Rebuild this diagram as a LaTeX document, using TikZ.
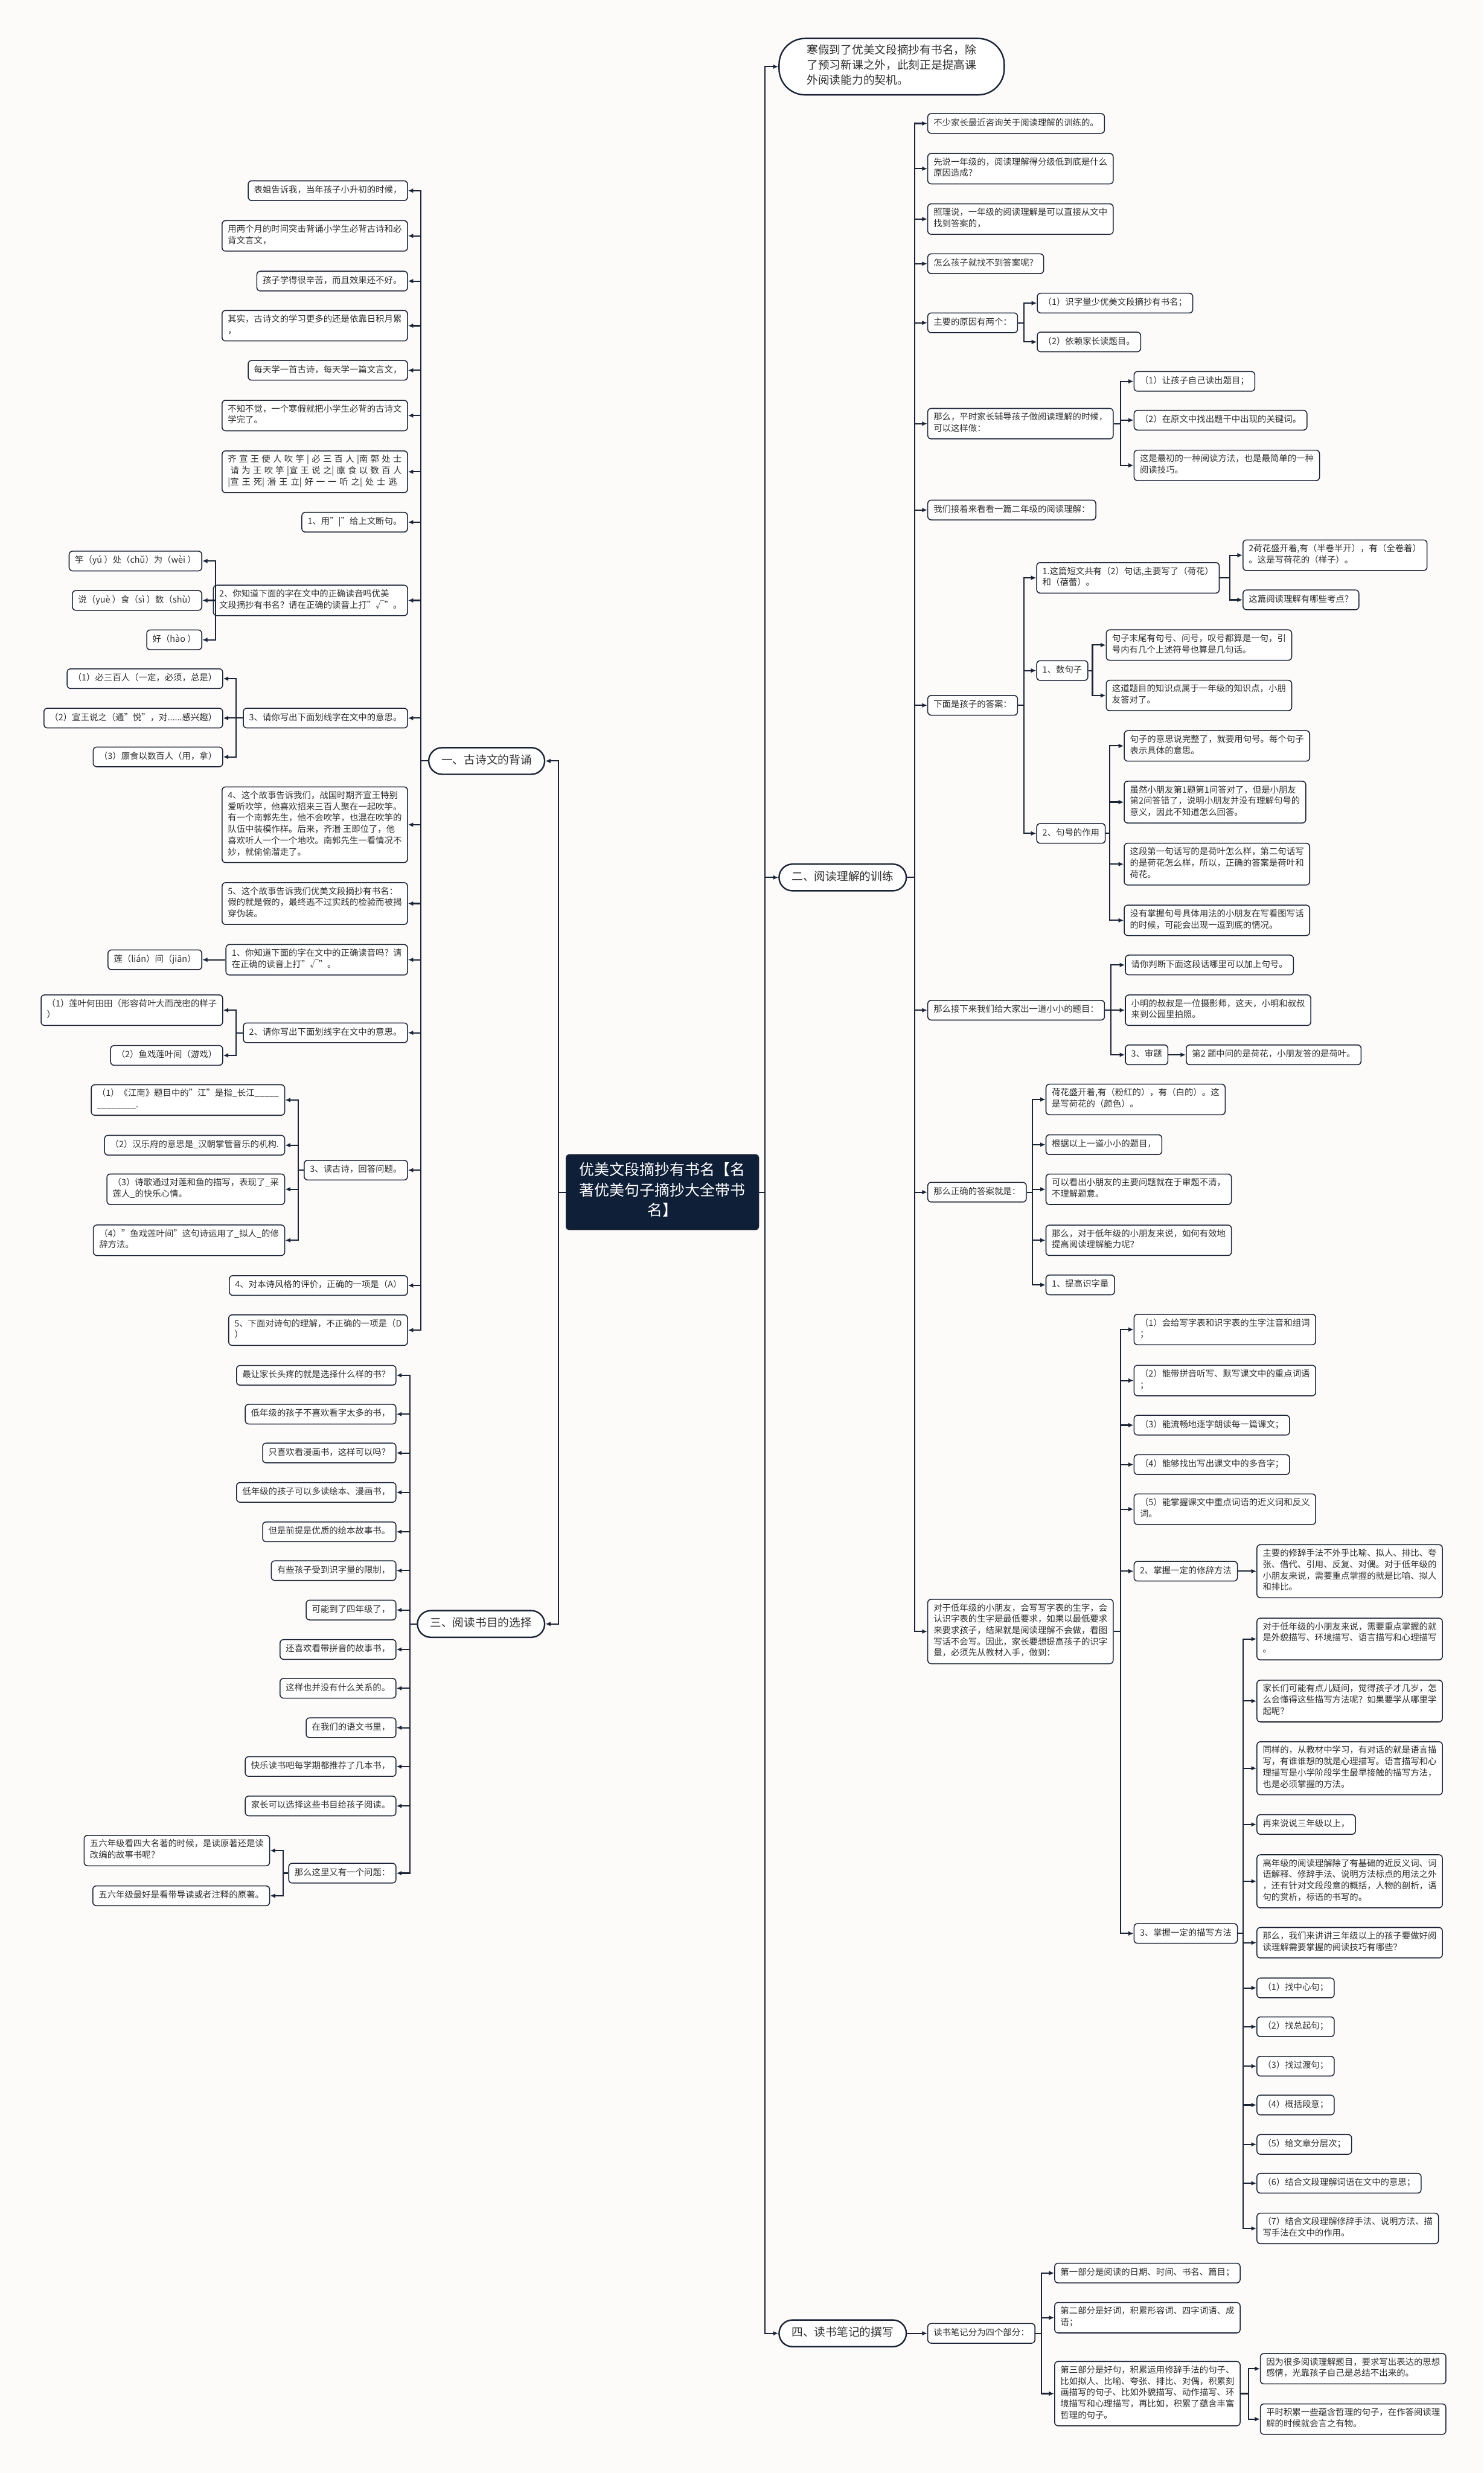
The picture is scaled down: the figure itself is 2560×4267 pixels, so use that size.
\documentclass[tikz,border=0pt]{standalone}
\usepackage{fontspec}
\setmainfont{Noto Sans CJK SC}
\usetikzlibrary{arrows.meta}
\definecolor{bgc}{HTML}{FDFAFA}
\definecolor{linec}{HTML}{1B2436}
\definecolor{textc}{HTML}{2E2E2E}
\definecolor{navyc}{HTML}{0F1F38}
\tikzset{
  box/.style={draw=linec, line width=1.6pt, fill=white, rounded corners=6pt,
    inner xsep=10pt, inner ysep=7.25pt, align=left, text=textc,
    font=\fontsize{15}{19.5}\selectfont,
    execute at begin node=\strut, execute at end node=\strut},
  lb/.style={box, anchor=east},
  rb/.style={box, anchor=west},
  pill/.style={draw=linec, line width=2.5pt, fill=white, rounded corners=23pt,
    inner xsep=22pt, inner ysep=10pt, text=textc,
    font=\fontsize{19.5}{26}\selectfont,
    execute at begin node=\strut, execute at end node=\strut},
  bigpill/.style={pill, rounded corners=45pt, inner xsep=48pt, inner ysep=10.5pt, align=left},
  rootbox/.style={fill=navyc, draw=linec, line width=1.5pt, rounded corners=5pt, text=white,
    inner xsep=23pt, inner ysep=13.5pt, align=center,
    font=\fontsize{26}{35}\selectfont,
    execute at begin node=\strut, execute at end node=\strut},
  conn/.style={draw=linec, line width=2.2pt, -{Latex[length=9pt,width=8pt]}}
}
\newcommand{\cnx}[3]{\draw[conn] (#1) -- (#1 -| #2) |- (#3);}
\begin{document}
\begin{tikzpicture}[x=1pt,y=-1pt]
\fill[bgc] (0,0) rectangle (2560,4267);
\useasboundingbox (0,0) rectangle (2560,4267);

% trunk coordinates
\coordinate (tL) at (964,0);
\coordinate (tR) at (1320,0);
\coordinate (tA) at (726,0);
\coordinate (tB) at (372,0);
\coordinate (tC) at (407,0);
\coordinate (tF) at (515,0);
\coordinate (tG) at (707,0);
\coordinate (tH) at (489,0);
\coordinate (tS) at (1578,0);
\coordinate (tS5) at (1767,0);
\coordinate (tS6) at (1933,0);
\coordinate (tT1) at (2122,0);
\coordinate (tT2) at (1885,0);
\coordinate (tT3) at (1915,0);
\coordinate (tS9) at (1917,0);
\coordinate (tS10) at (1781,0);
\coordinate (tW7) at (2145,0);
\coordinate (tY) at (1797,0);
\coordinate (tY3) at (2154,0);

% root
\node[rootbox] (root) at (1143,2057) {优美文段摘抄有书名【名\\著优美句子摘抄大全带书\\名】};

% branch nodes
\node[pill, anchor=east] (l1) at (941,1313) {一、古诗文的背诵};
\node[pill, anchor=east] (l3) at (941,2802) {三、阅读书目的选择};
\node[bigpill, anchor=west] (r0) at (1343,115) {寒假到了优美文段摘抄有书名，除\\了预习新课之外，此刻正是提高课\\外阅读能力的契机。};
\node[pill, anchor=west] (r2) at (1343,1514) {二、阅读理解的训练};
\node[pill, anchor=west] (r4) at (1343,4026) {四、读书笔记的撰写};

% ---------- branch 1 ----------
\node[lb] (a1) at (704,329) {表姐告诉我，当年孩子小升初的时候，};
\node[lb] (a2) at (704,407) {用两个月的时间突击背诵小学生必背古诗和必\\背文言文，};
\node[lb] (a3) at (704,485) {孩子学得很辛苦，而且效果还不好。};
\node[lb] (a4) at (704,562) {其实，古诗文的学习更多的还是依靠日积月累\\，};
\node[lb] (a5) at (704,639) {每天学一首古诗，每天学一篇文言文，};
\node[lb] (a6) at (704,717) {不知不觉，一个寒假就把小学生必背的古诗文\\学完了。};
\node[lb] (a7) at (704,814) {\makebox[300pt][s]{齐 宣 王 使 人 吹 竽 | 必 三 百 人 |南 郭 处 士}\\\makebox[300pt][s]{ 请 为 王 吹 竽 |宣 王 说 之| 廪 食 以 数 百 人}\\\makebox[292pt][s]{|宣 王 死| 湣 王 立| 好 一 一 听 之| 处 士 逃}};
\node[lb] (a8) at (704,901) {1、用"|"给上文断句。};
\node[lb] (a9) at (704,1036) {2、你知道下面的字在文中的正确读音吗优美\\文段摘抄有书名？请在正确的读音上打"√"。};
\node[lb] (b1) at (349,968) {竽（yú ）处（chǔ）为（wèi ）};
\node[lb] (b2) at (349,1036) {说（yuè ）食（sì ）数（shù）};
\node[lb] (b3) at (349,1104) {好（hào ）};
\node[lb] (a10) at (704,1239) {3、请你写出下面划线字在文中的意思。};
\node[lb] (c1) at (385,1171) {（1）必三百人（一定，必须，总是）};
\node[lb] (c2) at (385,1239) {（2）宣王说之（通"悦"，对......感兴趣）};
\node[lb] (c3) at (385,1306) {（3）廪食以数百人（用，拿）};
\node[lb] (a11) at (704,1423) {4、这个故事告诉我们，战国时期齐宣王特别\\爱听吹竽，他喜欢招来三百人聚在一起吹竽。\\有一个南郭先生，他不会吹竽，也混在吹竽的\\队伍中装模作样。后来，齐湣 王即位了，他\\喜欢听人一个一个地吹。南郭先生一看情况不\\妙，就偷偷溜走了。};
\node[lb] (a12) at (704,1559) {5、这个故事告诉我们优美文段摘抄有书名：\\假的就是假的，最终逃不过实践的检验而被揭\\穿伪装。};
\node[lb] (a13) at (704,1656) {1、你知道下面的字在文中的正确读音吗？请\\在正确的读音上打"√"。};
\node[lb] (d1) at (349,1656) {莲（lián）间（jiān）};
\node[lb] (a14) at (704,1782) {2、请你写出下面划线字在文中的意思。};
\node[lb] (e1) at (385,1743) {（1）莲叶何田田（形容荷叶大而茂密的样子\\）};
\node[lb] (e2) at (385,1821) {（2）鱼戏莲叶间（游戏）};
\node[lb] (a15) at (704,2019) {3、读古诗，回答问题。};
\node[lb] (f1) at (492,1898) {（1）《江南》题目中的"江"是指\_长江\_\_\_\_\_\\\_\_\_\_\_\_\_\_.};
\node[lb] (f2) at (492,1976) {（2）汉乐府的意思是\_汉朝掌管音乐的机构.};
\node[lb] (f3) at (492,2052) {（3）诗歌通过对莲和鱼的描写，表现了\_采\\莲人\_的快乐心情。};
\node[lb] (f4) at (492,2140) {（4）"鱼戏莲叶间"这句诗运用了\_拟人\_的修\\辞方法。};
\node[lb] (a16) at (704,2218) {4、对本诗风格的评价，正确的一项是（A）};
\node[lb] (a17) at (704,2295) {5、下面对诗句的理解，不正确的一项是（D\\）};

% ---------- branch 3 ----------
\node[lb] (g1) at (684,2373) {最让家长头疼的就是选择什么样的书？};
\node[lb] (g2) at (684,2440) {低年级的孩子不喜欢看字太多的书，};
\node[lb] (g3) at (684,2507) {只喜欢看漫画书，这样可以吗？};
\node[lb] (g4) at (684,2575) {低年级的孩子可以多读绘本、漫画书，};
\node[lb] (g5) at (684,2643) {但是前提是优质的绘本故事书。};
\node[lb] (g6) at (684,2710) {有些孩子受到识字量的限制，};
\node[lb] (g7) at (684,2778) {可能到了四年级了，};
\node[lb] (g8) at (684,2846) {还喜欢看带拼音的故事书，};
\node[lb] (g9) at (684,2913) {这样也并没有什么关系的。};
\node[lb] (g10) at (684,2981) {在我们的语文书里，};
\node[lb] (g11) at (684,3048) {快乐读书吧每学期都推荐了几本书，};
\node[lb] (g12) at (684,3116) {家长可以选择这些书目给孩子阅读。};
\node[lb] (g13) at (684,3232) {那么这里又有一个问题：};
\node[lb] (h1) at (466,3193) {五六年级看四大名著的时候，是读原著还是读\\改编的故事书呢？};
\node[lb] (h2) at (466,3271) {五六年级最好是看带导读或者注释的原著。};

% ---------- branch 2 ----------
\node[rb] (s1) at (1600,213) {不少家长最近咨询关于阅读理解的训练的。};
\node[rb] (s2) at (1600,291) {先说一年级的，阅读理解得分级低到底是什么\\原因造成？};
\node[rb] (s3) at (1600,378) {照理说，一年级的阅读理解是可以直接从文中\\找到答案的，};
\node[rb] (s4) at (1600,455) {怎么孩子就找不到答案呢？};
\node[rb] (s5) at (1600,557) {主要的原因有两个：};
\node[rb] (s5a) at (1789,523) {（1）识字量少优美文段摘抄有书名；};
\node[rb] (s5b) at (1789,590) {（2）依赖家长读题目。};
\node[rb] (s6) at (1600,731) {那么，平时家长辅导孩子做阅读理解的时候，\\可以这样做：};
\node[rb] (s6a) at (1956,658) {（1）让孩子自己读出题目；};
\node[rb] (s6b) at (1956,725) {（2）在原文中找出题干中出现的关键词。};
\node[rb] (s6c) at (1956,803) {这是最初的一种阅读方法，也是最简单的一种\\阅读技巧。};
\node[rb] (s7) at (1600,880) {我们接着来看看一篇二年级的阅读理解：};
\node[rb] (s8) at (1600,1217) {下面是孩子的答案：};
\node[rb] (t1) at (1788,997) {1.这篇短文共有（2）句话,主要写了（荷花）\\和（蓓蕾）。};
\node[rb] (t1a) at (2144,958) {2荷花盛开着,有（半卷半开），有（全卷着）\\。这是写荷花的（样子）。};
\node[rb] (t1b) at (2144,1035) {这篇阅读理解有哪些考点？};
\node[rb] (t2) at (1788,1157) {1、数句子};
\node[rb] (t2a) at (1908,1113) {句子末尾有句号、问号，叹号都算是一句，引\\号内有几个上述符号也算是几句话。};
\node[rb] (t2b) at (1908,1200) {这道题目的知识点属于一年级的知识点，小朋\\友答对了。};
\node[rb] (t3) at (1788,1438) {2、句号的作用};
\node[rb] (t3a) at (1939,1287) {句子的意思说完整了，就要用句号。每个句子\\表示具体的意思。};
\node[rb] (t3b) at (1939,1384) {虽然小朋友第1题第1问答对了，但是小朋友\\第2问答错了，说明小朋友并没有理解句号的\\意义，因此不知道怎么回答。};
\node[rb] (t3c) at (1939,1491) {这段第一句话写的是荷叶怎么样，第二句话写\\的是荷花怎么样，所以，正确的答案是荷叶和\\荷花。};
\node[rb] (t3d) at (1939,1588) {没有掌握句号具体用法的小朋友在写看图写话\\的时候，可能会出现一逗到底的情况。};
\node[rb] (s9) at (1600,1743) {那么接下来我们给大家出一道小小的题目：};
\node[rb] (u1) at (1941,1665) {请你判断下面这段话哪里可以加上句号。};
\node[rb] (u2) at (1941,1743) {小明的叔叔是一位摄影师，这天，小明和叔叔\\来到公园里拍照。};
\node[rb] (u3) at (1941,1820) {3、审题};
\node[rb] (u3a) at (2046,1820) {第2 题中问的是荷花，小朋友答的是荷叶。};
\node[rb] (s10) at (1600,2057) {那么正确的答案就是：};
\node[rb] (v1) at (1804,1897) {荷花盛开着,有（粉红的），有（白的）。这\\是写荷花的（颜色）。};
\node[rb] (v2) at (1804,1975) {根据以上一道小小的题目，};
\node[rb] (v3) at (1804,2052) {可以看出小朋友的主要问题就在于审题不清，\\不理解题意。};
\node[rb] (v4) at (1804,2140) {那么，对于低年级的小朋友来说，如何有效地\\提高阅读理解能力呢？};
\node[rb] (v5) at (1804,2217) {1、提高识字量};
\node[rb] (s11) at (1600,2815) {对于低年级的小朋友，会写写字表的生字，会\\认识字表的生字是最低要求，如果以最低要求\\来要求孩子，结果就是阅读理解不会做，看图\\写话不会写。因此，家长要想提高孩子的识字\\量，必须先从教材入手，做到：};
\node[rb] (w1) at (1956,2294) {（1）会给写字表和识字表的生字注音和组词\\；};
\node[rb] (w2) at (1956,2382) {（2）能带拼音听写、默写课文中的重点词语\\；};
\node[rb] (w3) at (1956,2459) {（3）能流畅地逐字朗读每一篇课文；};
\node[rb] (w4) at (1956,2527) {（4）能够找出写出课文中的多音字；};
\node[rb] (w5) at (1956,2604) {（5）能掌握课文中重点词语的近义词和反义\\词。};
\node[rb] (w6) at (1956,2711) {2、掌握一定的修辞方法};
\node[rb] (w6a) at (2168,2711) {主要的修辞手法不外乎比喻、拟人、排比、夸\\张、借代、引用、反复、对偶。对于低年级的\\小朋友来说，需要重点掌握的就是比喻、拟人\\和排比。};
\node[rb] (w7) at (1956,3336) {3、掌握一定的描写方法};
\node[rb] (x1) at (2168,2828) {对于低年级的小朋友来说，需要重点掌握的就\\是外貌描写、环境描写、语言描写和心理描写\\。};
\node[rb] (x2) at (2168,2935) {家长们可能有点儿疑问，觉得孩子才几岁，怎\\么会懂得这些描写方法呢？如果要学从哪里学\\起呢？};
\node[rb] (x3) at (2168,3051) {同样的，从教材中学习，有对话的就是语言描\\写，有谁谁想的就是心理描写。语言描写和心\\理描写是小学阶段学生最早接触的描写方法，\\也是必须掌握的方法。};
\node[rb] (x4) at (2168,3148) {再来说说三年级以上，};
\node[rb] (x5) at (2168,3246) {高年级的阅读理解除了有基础的近反义词、词\\语解释、修辞手法、说明方法标点的用法之外\\，还有针对文段段意的概括，人物的剖析，语\\句的赏析，标语的书写的。};
\node[rb] (x6) at (2168,3352) {那么，我们来讲讲三年级以上的孩子要做好阅\\读理解需要掌握的阅读技巧有哪些？};
\node[rb] (x7) at (2168,3430) {（1）找中心句；};
\node[rb] (x8) at (2168,3497) {（2）找总起句；};
\node[rb] (x9) at (2168,3565) {（3）找过渡句；};
\node[rb] (x10) at (2168,3632) {（4）概括段意；};
\node[rb] (x11) at (2168,3700) {（5）给文章分层次；};
\node[rb] (x12) at (2168,3767) {（6）结合文段理解词语在文中的意思；};
\node[rb] (x13) at (2168,3845) {（7）结合文段理解修辞手法、说明方法、描\\写手法在文中的作用。};

% ---------- branch 4 ----------
\node[rb] (y0) at (1600,4026) {读书笔记分为四个部分：};
\node[rb] (y1) at (1819,3922) {第一部分是阅读的日期、时间、书名、篇目；};
\node[rb] (y2) at (1819,3999) {第二部分是好词，积累形容词、四字词语、成\\语；};
\node[rb] (y3) at (1819,4130) {第三部分是好句，积累运用修辞手法的句子、\\比如拟人、比喻、夸张、排比、对偶，积累刻\\画描写的句子、比如外貌描写、动作描写、环\\境描写和心理描写，再比如，积累了蕴含丰富\\哲理的句子。};
\node[rb] (y3a) at (2174,4087) {因为很多阅读理解题目，要求写出表达的思想\\感情，光靠孩子自己是总结不出来的。};
\node[rb] (y3b) at (2174,4174) {平时积累一些蕴含哲理的句子，在作答阅读理\\解的时候就会言之有物。};

% ---------- connectors ----------
\cnx{root.west}{tL}{l1.east}
\cnx{root.west}{tL}{l3.east}
\cnx{root.east}{tR}{r0.west}
\cnx{root.east}{tR}{r2.west}
\cnx{root.east}{tR}{r4.west}

\foreach \n in {a1,a2,a3,a4,a5,a6,a7,a8,a9,a10,a11,a12,a13,a14,a15,a16,a17}{\cnx{l1.west}{tA}{\n.east}}
\foreach \n in {b1,b2,b3}{\cnx{a9.west}{tB}{\n.east}}
\foreach \n in {c1,c2,c3}{\cnx{a10.west}{tC}{\n.east}}
\draw[conn] (a13.west) -- (d1.east);
\foreach \n in {e1,e2}{\cnx{a14.west}{tC}{\n.east}}
\foreach \n in {f1,f2,f3,f4}{\cnx{a15.west}{tF}{\n.east}}

\foreach \n in {g1,g2,g3,g4,g5,g6,g7,g8,g9,g10,g11,g12,g13}{\cnx{l3.west}{tG}{\n.east}}
\foreach \n in {h1,h2}{\cnx{g13.west}{tH}{\n.east}}

\foreach \n in {s1,s2,s3,s4,s5,s6,s7,s8,s9,s10,s11}{\cnx{r2.east}{tS}{\n.west}}
\foreach \n in {s5a,s5b}{\cnx{s5.east}{tS5}{\n.west}}
\foreach \n in {s6a,s6b,s6c}{\cnx{s6.east}{tS6}{\n.west}}
\foreach \n in {t1,t2,t3}{\cnx{s8.east}{tS5}{\n.west}}
\foreach \n in {t1a,t1b}{\cnx{t1.east}{tT1}{\n.west}}
\foreach \n in {t2a,t2b}{\cnx{t2.east}{tT2}{\n.west}}
\foreach \n in {t3a,t3b,t3c,t3d}{\cnx{t3.east}{tT3}{\n.west}}
\foreach \n in {u1,u2,u3}{\cnx{s9.east}{tS9}{\n.west}}
\draw[conn] (u3.east) -- (u3a.west);
\foreach \n in {v1,v2,v3,v4,v5}{\cnx{s10.east}{tS10}{\n.west}}
\foreach \n in {w1,w2,w3,w4,w5,w6,w7}{\cnx{s11.east}{tS6}{\n.west}}
\draw[conn] (w6.east) -- (w6a.west);
\foreach \n in {x1,x2,x3,x4,x5,x6,x7,x8,x9,x10,x11,x12,x13}{\cnx{w7.east}{tW7}{\n.west}}

\draw[conn] (r4.east) -- (y0.west);
\foreach \n in {y1,y2,y3}{\cnx{y0.east}{tY}{\n.west}}
\foreach \n in {y3a,y3b}{\cnx{y3.east}{tY3}{\n.west}}
\end{tikzpicture}
\end{document}
